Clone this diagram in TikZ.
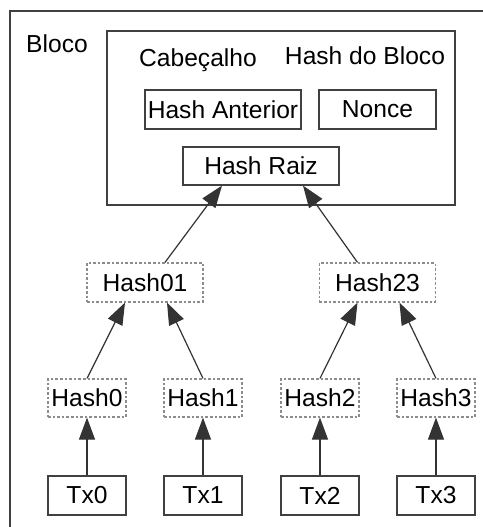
\documentclass[tikz,border=0pt]{standalone}
\usepackage{fontspec}
\setmainfont{Liberation Sans}
\usetikzlibrary{arrows.meta}
\tikzstyle{every node}=[font=\fontsize{12.3}{14}\selectfont, inner sep=0pt]
\tikzstyle{box}=[rectangle, draw=black!75, line width=0.6pt, minimum height=19.5pt]
\tikzstyle{hashbox}=[rectangle, draw=black!45, dash pattern=on 1.3pt off 1pt, line width=0.6pt, minimum height=19pt]
\tikzstyle{edge}=[draw=black!80, line width=0.6pt, -{Triangle[length=11pt, width=8pt]}]

\begin{document}
\begin{tikzpicture}[x=0.5pt, y=-0.5pt]
    \useasboundingbox (0,0) rectangle (483,527);

    % outer frame (cut off at the right and at the bottom)
    \draw[draw=black!75, line width=0.6pt] (10,540) |- (500,11);
    \node (bloco) at (57,44) {Bloco};

    % block header
    \node[box, minimum width=174pt, minimum height=87pt] (cab) at (281,118) {};
    \node[anchor=base] (cabtxt) at (198,66) {Cabeçalho};
    \node[anchor=base] (hashbloco) at (365,64) {Hash do Bloco};
    \node[box, minimum width=78pt] (anterior) at (223,109.5) {Hash Anterior};
    \node[box, minimum width=58.5pt] (nonce) at (377.5,109.5) {Nonce};
    \node[box, minimum width=78pt, minimum height=19pt] (raiz) at (261,166) {Hash Raiz};

    % intermediate hashes
    \node[hashbox, minimum width=58pt, minimum height=19.5pt] (h01) at (145,282.5) {Hash01};
    \node[hashbox, minimum width=58pt, minimum height=19.5pt] (h23) at (377.5,282.5) {Hash23};

    % leaves: transactions and their hashes
    \foreach \i/\x in {0/87, 1/203, 2/320, 3/436} {
        \node[hashbox, minimum width=39pt] (h\i) at (\x,398) {Hash\i};
        \node[box, minimum width=39pt] (tx\i) at (\x,495.5) {Tx\i};
        \draw[edge] (tx\i) -- (h\i);
    }

    \draw[edge] (h0.north) -- ([xshift=-10pt]h01.south);
    \draw[edge] (h1.north) -- ([xshift=11pt]h01.south);
    \draw[edge] (h2.north) -- ([xshift=-10pt]h23.south);
    \draw[edge] (h3.north) -- ([xshift=11pt]h23.south);

    \draw[edge] ([xshift=10pt]h01.north) -- ([xshift=-19.5pt]raiz.south);
    \draw[edge] ([xshift=-10pt]h23.north) -- ([xshift=21pt]raiz.south);

\end{tikzpicture}
\end{document}
